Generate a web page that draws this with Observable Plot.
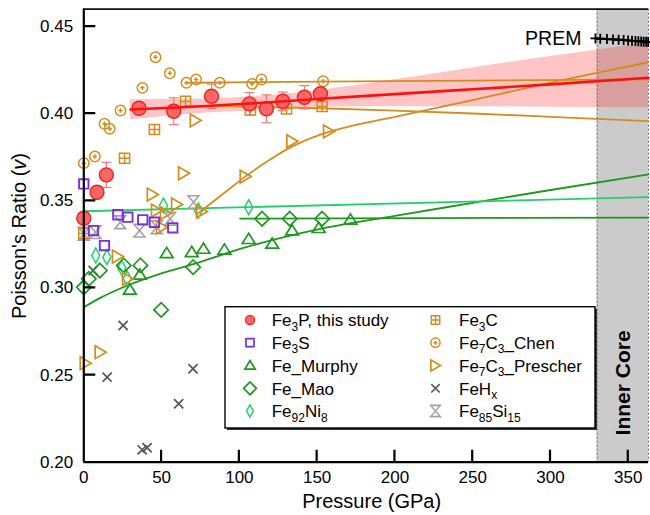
<!DOCTYPE html>
<html>
<head>
<meta charset="utf-8">
<script src="https://cdn.jsdelivr.net/npm/d3@7"></script>
<script src="https://cdn.jsdelivr.net/npm/@observablehq/plot@0.6"></script>
<style>
  body { margin: 0; background: #fff; }
  #chart svg { font-family: "Liberation Sans", Arial, sans-serif; display: block; }
</style>
</head>
<body>
<div id="chart"></div>
<script>
// ---------- Data: pressure (GPa) and Poisson's ratio ----------
// Fe3P, this study (with 1-sigma uncertainty)
const fe3pP   = [0, 8.5, 14.5, 35.5, 57.8, 82.1, 106.5, 117.4, 127.9, 141.8, 152.1];
const fe3pV   = [0.3400, 0.3549, 0.3649, 0.4031, 0.4014, 0.4100, 0.4056, 0.4028, 0.4071, 0.4094, 0.4114];
const fe3pErr = [0, 0, 0.0072, 0, 0.0077, 0.0070, 0.0065, 0.0080, 0.0053, 0.0067, 0];
// Fe3P fit and its confidence band
const fe3pFitP  = [30, 70, 107, 152, 200, 250, 300, 363];
const fe3pFitV  = [0.4024, 0.4040, 0.4058, 0.4086, 0.4112, 0.4140, 0.4168, 0.4206];
const fe3pBandLo = [0.3965, 0.3998, 0.4015, 0.4038, 0.4040, 0.4039, 0.4037, 0.4034];
const fe3pBandHi = [0.4080, 0.4082, 0.4095, 0.4135, 0.4195, 0.4262, 0.4328, 0.4404];

// Fe3S
const fe3sP = [0, 6.2, 13.3, 21.9, 28.3, 37.9, 45.4, 57.2];
const fe3sV = [0.3597, 0.3329, 0.3243, 0.3420, 0.3406, 0.3391, 0.3377, 0.3345];

// Fe_Murphy
const murphyP = [29.6, 36.0, 53.3, 69.4, 76.9, 90.4, 106.0, 121.1, 133.9, 151.0, 171.4];
const murphyV = [0.2989, 0.3075, 0.3199, 0.3205, 0.3224, 0.3219, 0.3280, 0.3253, 0.3329, 0.3343, 0.3391];
const murphyFitP = [0, 10, 28, 49, 71, 101, 152, 200, 250, 300, 363];
const murphyFitV = [0.2889, 0.2940, 0.3014, 0.3081, 0.3138, 0.3225, 0.3339, 0.3414, 0.3488, 0.3562, 0.3651];

// Fe_Mao
const maoP = [0, 3.2, 10.3, 25.7, 36.4, 49.7, 70.3, 114.6, 132.4, 153.2];
const maoV = [0.3004, 0.3052, 0.3100, 0.3129, 0.3129, 0.2874, 0.3119, 0.3397, 0.3397, 0.3397];
const maoFitP = [100.5, 363];
const maoFitV = [0.3398, 0.3404];

// Fe92Ni8
const feniP = [7.7, 14.8, 24.4, 27.9, 51.2, 73.7, 106.0];
const feniV = [0.3186, 0.3176, 0.3115, 0.3054, 0.3473, 0.3444, 0.3463];
const feniFitP = [0, 363];
const feniFitV = [0.3440, 0.3521];

// Fe3C
const fe3cP = [0, 26.2, 45.4, 65.4, 107.1, 130.3, 153.2];
const fe3cV = [0.3312, 0.3744, 0.3909, 0.4070, 0.4022, 0.4028, 0.4041];
const fe3cFitP = [65, 100, 152, 200, 250, 300, 363];
const fe3cFitV = [0.4045, 0.4040, 0.4031, 0.4018, 0.4001, 0.3982, 0.3957];

// Fe7C3_Chen
const chenP = [0, 7.1, 13.3, 16.7, 23.6, 37.7, 46.1, 55.3, 66.0, 72.2, 87.4, 108.2, 114.2, 153.9];
const chenV = [0.3716, 0.3754, 0.3942, 0.3913, 0.4018, 0.4148, 0.4324, 0.4232, 0.4177, 0.4196, 0.4177, 0.4171, 0.4196, 0.4186];
const chenFitP = [66, 152, 363];
const chenFitV = [0.4177, 0.4184, 0.4197];

// Fe7C3_Prescher
const prescherP = [1.1, 10.7, 21.8, 28.3, 44.2, 46.9, 50.1, 52.7, 59.8, 64.3, 71.8, 75.8, 103.9, 133.9, 157.5];
const prescherV = [0.2568, 0.2631, 0.3180, 0.3052, 0.3536, 0.3444, 0.3348, 0.3429, 0.3479, 0.3658, 0.3961, 0.3438, 0.3639, 0.3842, 0.3898];
const prescherFitP = [73, 90, 104, 120, 134, 152, 175, 200, 250, 300, 363];
const prescherFitV = [0.3425, 0.3543, 0.3640, 0.3738, 0.3812, 0.3880, 0.3936, 0.3982, 0.4078, 0.4178, 0.4295];

// FeHx
const fehP = [6.0, 15.0, 25.3, 37.5, 40.7, 61.0, 70.2];
const fehV = [0.3100, 0.2488, 0.2784, 0.2071, 0.2083, 0.2335, 0.2536];

// Fe85Si15
const fesiP = [0, 7.5, 23.4, 35.8, 46.9, 55.5, 70.5];
const fesiV = [0.3311, 0.3320, 0.3377, 0.3329, 0.3348, 0.3397, 0.3492];

// PREM inner core
const premP = [328.9, 332.0, 336.3, 340.2, 343.8, 347.0, 349.9, 352.4, 354.6, 356.5, 358.3, 359.9, 361.5, 362.8];
const premV = [0.4432, 0.4430, 0.4428, 0.4426, 0.4424, 0.4422, 0.4420, 0.4418, 0.4417, 0.4416, 0.4414, 0.4413, 0.4412, 0.4411];

// Axes
const pressureDomain = [0, 363];
const ratioDomain = [0.20, 0.46];
const innerCore = [330, 363];
const xTicks = [0, 50, 100, 150, 200, 250, 300, 350];
const yTicks = [0.20, 0.25, 0.30, 0.35, 0.40, 0.45];

// ---------- helpers ----------
const rows = (P, V, extra) => P.map((p, i) => ({p, v: V[i], ...(extra ? {e: extra[i]} : {})}));

// Custom marker shapes, drawn at half-size s
const shapes = {
  circle:   (c, s) => { c.moveTo(s, 0); c.arc(0, 0, s, 0, 2 * Math.PI); c.closePath(); },
  square:   (c, s) => { c.rect(-s, -s, 2 * s, 2 * s); },
  squarePlus: (c, s) => { c.rect(-s, -s, 2 * s, 2 * s); c.moveTo(-s, 0); c.lineTo(s, 0); c.moveTo(0, -s); c.lineTo(0, s); },
  circlePlus: (c, s) => { c.moveTo(s, 0); c.arc(0, 0, s, 0, 2 * Math.PI); c.closePath();
                          const q = s * 0.42; c.moveTo(-q, 0); c.lineTo(q, 0); c.moveTo(0, -q); c.lineTo(0, q); },
  triUp:    (c, s) => { c.moveTo(0, -0.92 * s); c.lineTo(s, 0.68 * s); c.lineTo(-s, 0.68 * s); c.closePath(); },
  triRight: (c, s) => { c.moveTo(0.9 * s, 0); c.lineTo(-0.82 * s, -s); c.lineTo(-0.82 * s, s); c.closePath(); },
  diamond:  (c, s) => { c.moveTo(0, -s); c.lineTo(s, 0); c.lineTo(0, s); c.lineTo(-s, 0); c.closePath(); },
  thinDiamond: (c, s) => { c.moveTo(0, -s); c.lineTo(0.55 * s, 0); c.lineTo(0, s); c.lineTo(-0.55 * s, 0); c.closePath(); },
  times:    (c, s) => { c.moveTo(-s, -s); c.lineTo(s, s); c.moveTo(-s, s); c.lineTo(s, -s); },
  hourglass:(c, s) => { c.moveTo(-0.85 * s, -s); c.lineTo(0.85 * s, -s); c.lineTo(-0.85 * s, s); c.lineTo(0.85 * s, s); c.closePath(); },
  plus:     (c, s) => { c.moveTo(-s, 0); c.lineTo(s, 0); c.moveTo(0, -s); c.lineTo(0, s); },
  cap:      (c, s) => { c.moveTo(-s, 0); c.lineTo(s, 0); }
};
const sym = (name) => ({draw(context, size) { shapes[name](context, Math.sqrt(size / Math.PI)); }});

const ORANGE = "#d38d1f";
const PURPLE = "#7b30e0";
const GREEN = "#1f981f";
const LGREEN = "#22d06c";
const REDFILL = "#f86666";
const REDLINE = "#ff1010";
const TICK = 12;

const fe3p = rows(fe3pP, fe3pV, fe3pErr);
const fe3pBars = fe3p.filter(d => d.e > 0);
const fe3pCaps = fe3pBars.flatMap(d => [{p: d.p, v: d.v - d.e}, {p: d.p, v: d.v + d.e}]);
const band = fe3pFitP.map((p, i) => ({p, lo: fe3pBandLo[i], hi: fe3pBandHi[i]}));

const lineOpts = (color, w = 1.8) => ({x: "p", y: "v", stroke: color, strokeWidth: w, curve: "monotone-x"});

const chart = Plot.plot({
  width: 650,
  height: 515,
  marginLeft: 83.3,
  marginRight: 2,
  marginTop: 8.6,
  marginBottom: 53.3,
  style: {fontFamily: "'Liberation Sans', Arial, sans-serif", fontSize: "17px", color: "#000", background: "#fff"},
  x: {domain: pressureDomain},
  y: {domain: ratioDomain},
  marks: [
    // inner core shading
    Plot.rect([innerCore], {x1: d => d[0], x2: d => d[1], fill: "#cbcbcb"}),
    Plot.ruleX(innerCore, {stroke: "#6a6a6a", strokeWidth: 1, strokeDasharray: "2,2"}),
    Plot.text(["Inner Core"], {x: (innerCore[0] + innerCore[1]) / 2, y: 0.2455, rotate: -90,
      fontWeight: "bold", fontSize: 21, fill: "#000"}),

    // Fe3P confidence band
    Plot.areaY(band, {x: "p", y1: "lo", y2: "hi", fill: "#ff2a2a", fillOpacity: 0.28, curve: "monotone-x"}),

    // fitted curves
    Plot.line(rows(murphyFitP, murphyFitV), lineOpts(GREEN)),
    Plot.line(rows(maoFitP, maoFitV), lineOpts(GREEN)),
    Plot.line(rows(feniFitP, feniFitV), lineOpts(LGREEN)),
    Plot.line(rows(fe3cFitP, fe3cFitV), lineOpts(ORANGE)),
    Plot.line(rows(chenFitP, chenFitV), lineOpts(ORANGE)),
    Plot.line(rows(prescherFitP, prescherFitV), {...lineOpts(ORANGE), curve: "catmull-rom"}),

    // data points
    Plot.dot(rows(fesiP, fesiV), {x: "p", y: "v", symbol: sym("hourglass"), r: 6.4, stroke: "#a3a3a3", strokeWidth: 1.6, fill: "none"}),
    Plot.dot(rows(fehP, fehV), {x: "p", y: "v", symbol: sym("times"), r: 4.6, stroke: "#555", strokeWidth: 1.7, fill: "none"}),
    Plot.dot(rows(feniP, feniV), {x: "p", y: "v", symbol: sym("thinDiamond"), r: 7.4, stroke: LGREEN, strokeWidth: 1.5, fill: "none"}),
    Plot.dot(rows(maoP, maoV), {x: "p", y: "v", symbol: sym("diamond"), r: 7.2, stroke: GREEN, strokeWidth: 1.7, fill: "none"}),
    Plot.dot(rows(murphyP, murphyV), {x: "p", y: "v", symbol: sym("triUp"), r: 6.4, stroke: GREEN, strokeWidth: 1.7, fill: "none"}),
    Plot.dot(rows(prescherP, prescherV), {x: "p", y: "v", symbol: sym("triRight"), r: 6.4, stroke: ORANGE, strokeWidth: 1.7, fill: "none"}),
    Plot.dot(rows(chenP, chenV), {x: "p", y: "v", symbol: sym("circlePlus"), r: 5.2, stroke: ORANGE, strokeWidth: 1.5, fill: "none"}),
    Plot.dot(rows(fe3cP, fe3cV), {x: "p", y: "v", symbol: sym("squarePlus"), r: 5.1, stroke: ORANGE, strokeWidth: 1.5, fill: "none"}),
    Plot.dot(rows(fe3sP, fe3sV), {x: "p", y: "v", symbol: sym("square"), r: 4.7, stroke: PURPLE, strokeWidth: 1.9, fill: "none"}),

    // Fe3P error bars and points
    Plot.ruleX(fe3pBars, {x: "p", y1: d => d.v - d.e, y2: d => d.v + d.e, stroke: "#f37a7a", strokeWidth: 1.2}),
    Plot.dot(fe3pCaps, {x: "p", y: "v", symbol: sym("cap"), r: 5, stroke: "#f37a7a", strokeWidth: 1.2}),
    Plot.dot(fe3p, {x: "p", y: "v", symbol: sym("circle"), r: 7, fill: REDFILL, stroke: "#ea2424", strokeWidth: 1.4}),
    Plot.line(rows(fe3pFitP, fe3pFitV), lineOpts(REDLINE, 2.6)),

    // PREM
    Plot.line(rows(premP, premV), {x: "p", y: "v", stroke: "#000", strokeWidth: 2}),
    Plot.dot(rows(premP, premV), {x: "p", y: "v", symbol: sym("plus"), r: 5, stroke: "#000", strokeWidth: 1.8}),
    Plot.text(["PREM"], {x: premP[0], y: premV[0], text: d => d, textAnchor: "end", dx: -14, fontSize: 19.5, fill: "#000"}),

    // frame lines and axis labels
    Plot.ruleY([ratioDomain[1]], {stroke: "#111", strokeWidth: 1.6}),
    Plot.axisX({ticks: xTicks, tickSize: 0, tickPadding: 9, fontSize: 17, label: null, tickFormat: d3.format("d")}),
    Plot.axisY({ticks: yTicks, tickSize: 0, tickPadding: 10.6, fontSize: 17, label: null, tickFormat: d3.format(".2f")}),
    Plot.ruleX([pressureDomain[0]], {stroke: "#000", strokeWidth: 2.2}),
    Plot.ruleY([ratioDomain[0]], {stroke: "#000", strokeWidth: 2.2})
  ]
});

document.getElementById("chart").appendChild(chart);

// ---------- inward ticks (from the plot's scales), axis titles and legend ----------
const svg = d3.select(chart);
const sx = chart.scale("x"), sy = chart.scale("y");
const X0 = +sx.apply(pressureDomain[0]);
const Y0 = +sy.apply(ratioDomain[0]);
let tickPath = "";
xTicks.slice(1).forEach(t => { const x = +sx.apply(t); tickPath += `M${x},${Y0}V${Y0 - TICK}`; });
yTicks.slice(1).forEach(t => { const y = +sy.apply(t); tickPath += `M${X0},${y}H${X0 + TICK}`; });
svg.append("path")
  .attr("d", tickPath)
  .attr("fill", "none")
  .style("stroke", "#000")
  .style("stroke-width", "2.2px");

const ytitle = svg.append("text")
  .attr("transform", "translate(25.5,236) rotate(-90)")
  .attr("text-anchor", "middle")
  .attr("font-size", 20)
  .attr("fill", "#000");
ytitle.append("tspan").text("Poisson's Ratio (");
ytitle.append("tspan").attr("font-style", "italic").text("v");
ytitle.append("tspan").text(")");

svg.append("text")
  .attr("x", 371.7).attr("y", 508.3)
  .attr("text-anchor", "middle")
  .attr("font-size", 20)
  .attr("fill", "#000")
  .text("Pressure (GPa)");

// legend entries: label (with <sub> markup), shape, style
const legendItems = [
  {label: "Fe<sub>3</sub>P, this study", shape: "circle", s: 4.6, fill: REDFILL, stroke: "#ea2424", w: 1.2, col: 0},
  {label: "Fe<sub>3</sub>S", shape: "square", s: 4.0, fill: "none", stroke: PURPLE, w: 1.7, col: 0},
  {label: "Fe_Murphy", shape: "triUp", s: 5.2, fill: "none", stroke: GREEN, w: 1.7, col: 0},
  {label: "Fe_Mao", shape: "diamond", s: 6.4, fill: "none", stroke: GREEN, w: 1.7, col: 0},
  {label: "Fe<sub>92</sub>Ni<sub>8</sub>", shape: "thinDiamond", s: 6.2, fill: "none", stroke: LGREEN, w: 1.5, col: 0},
  {label: "Fe<sub>3</sub>C", shape: "squarePlus", s: 4.2, fill: "none", stroke: ORANGE, w: 1.5, col: 1},
  {label: "Fe<sub>7</sub>C<sub>3</sub>_Chen", shape: "circlePlus", s: 4.6, fill: "none", stroke: ORANGE, w: 1.5, col: 1},
  {label: "Fe<sub>7</sub>C<sub>3</sub>_Prescher", shape: "triRight", s: 5.6, fill: "none", stroke: ORANGE, w: 1.7, col: 1},
  {label: "FeH<sub>x</sub>", shape: "times", s: 4.2, fill: "none", stroke: "#555", w: 1.5, col: 1},
  {label: "Fe<sub>85</sub>Si<sub>15</sub>", shape: "hourglass", s: 5.6, fill: "none", stroke: "#a3a3a3", w: 1.6, col: 1}
];

const lg = svg.append("g").attr("text-anchor", "start");
lg.append("rect").attr("x", 227).attr("y", 308.7).attr("width", 370).attr("height", 121.3).attr("fill", "#333");
lg.append("rect").attr("x", 225).attr("y", 306.7).attr("width", 370).attr("height", 121.3)
  .attr("fill", "#fff").attr("stroke", "#000").attr("stroke-width", 1.4);

const rowY = [320, 342.7, 365.5, 388.3, 411];
const colSym = [250, 435.5];
const colText = [271.7, 459];

legendItems.forEach((it, i) => {
  const y = rowY[i % 5];
  const p = d3.path();
  shapes[it.shape](p, it.s);
  lg.append("path")
    .attr("d", p.toString())
    .attr("transform", `translate(${colSym[it.col]},${y})`)
    .attr("fill", it.fill).attr("stroke", it.stroke).attr("stroke-width", it.w);
  const t = lg.append("text")
    .attr("x", colText[it.col]).attr("y", y + 6.2)
    .attr("font-size", 17).attr("fill", "#000");
  let shift = 0;
  it.label.split(/(<sub>.*?<\/sub>)/).filter(s => s.length).forEach(seg => {
    const m = seg.match(/^<sub>(.*)<\/sub>$/);
    if (m) {
      t.append("tspan").attr("font-size", 12).attr("dy", 4.5 - shift).text(m[1]);
      shift = 4.5;
    } else {
      t.append("tspan").attr("dy", -shift).text(seg);
      shift = 0;
    }
  });
});
</script>
</body>
</html>
